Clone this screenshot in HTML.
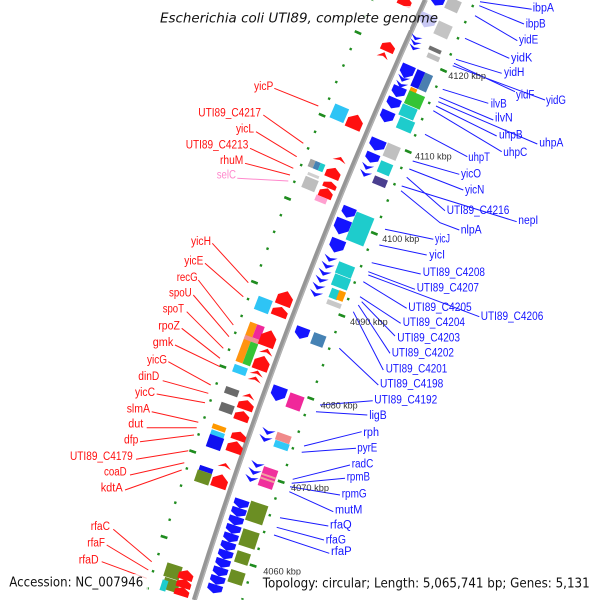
<!DOCTYPE html>
<html><head><meta charset="utf-8"><style>
html,body{margin:0;padding:0;background:#fff;width:600px;height:600px;overflow:hidden;}
svg{display:block;overflow:hidden;}
.l{font-family:"Liberation Sans",sans-serif;font-size:11.5px;}
.r{fill:#ff1010;}
.b{fill:#1414ff;}
.k{font-family:"Liberation Sans",sans-serif;font-size:9.5px;fill:#333;}
.t{font-family:"DejaVu Sans","Liberation Sans",sans-serif;font-size:13.5px;fill:#111;}
</style></head><body>
<svg width="600" height="600" viewBox="0 0 600 600" xmlns="http://www.w3.org/2000/svg">
<defs>
<path id="rA" d="M-.5,.5V-.1L0,-.5L.5,-.1V.5Z"/>
<path id="bA" d="M-.5,-.5H.5V.1L0,.5L-.5,.1Z"/>
<path id="bC" d="M-.5,-.5L0,-.15L.5,-.5L0,.5Z"/>
<path id="rC" d="M-.5,.5L0,.15L.5,.5L0,-.5Z"/>
<rect id="bx" x="-.5" y="-.5" width="1" height="1"/>
<clipPath id="cp"><rect width="600" height="600"/></clipPath>
</defs>
<g clip-path="url(#cp)">
<rect width="600" height="600" fill="#fff"/>

<!-- backbone -->
<path d="M425.3,0 Q288.2,300 194.3,600" fill="none" stroke="#969696" stroke-width="5"/>
<path d="M427,0 Q289.9,300 196,600" fill="none" stroke="#b4b4b4" stroke-width="1.3"/>

<!-- tick dots -->
<path d="M475.43,0.11 Q336.93,299.96 242.19,599.75" fill="none" stroke="#1f8c1f" stroke-width="2.4" stroke-dasharray="2.4 15.29" stroke-dashoffset="12.39"/>
<path d="M372.47,0.22 Q237.03,299.98 144.09,599.8" fill="none" stroke="#1f8c1f" stroke-width="2.4" stroke-dasharray="2.4 15.62" stroke-dashoffset="1.84"/>
<path d="M475.43,0.11 Q336.93,299.96 242.19,599.75" fill="none" stroke="#1f8c1f" stroke-width="7" stroke-dasharray="2.6 85.85" stroke-dashoffset="12.49"/>
<path d="M372.47,0.22 Q237.03,299.98 144.09,599.8" fill="none" stroke="#1f8c1f" stroke-width="7" stroke-dasharray="2.6 87.5" stroke-dashoffset="56.0"/>

<!-- ===== genes: top ===== -->
<use href="#rA" class="r" transform="translate(405 1) rotate(24.5) scale(14 10)"/>
<use href="#bA" class="b" transform="translate(437 1) rotate(24.5) scale(14 10)"/>
<use href="#bx" fill="#bdbdbd" transform="translate(453 5) rotate(24.4) scale(14 12)"/>
<use href="#bA" fill="#c8c8f4" transform="translate(427 21) rotate(24.3) scale(17 14)"/>
<use href="#bx" fill="#c4c4c4" transform="translate(443 30) rotate(24.2) scale(15 14)"/>
<use href="#rA" class="r" transform="translate(388.3 46.7) rotate(24) scale(14 10)"/>
<use href="#rC" class="r" transform="translate(383.3 55) rotate(23.9) scale(12 6)"/>
<use href="#bC" class="b" transform="translate(416 38) rotate(24) scale(12 5)"/>
<use href="#bC" class="b" transform="translate(415 43) rotate(24) scale(12 5)"/>
<use href="#bC" class="b" transform="translate(414 48) rotate(24) scale(12 5)"/>
<use href="#bx" fill="#707070" transform="translate(435 50) rotate(24) scale(13 4)"/>
<use href="#bx" fill="#c0c0c0" transform="translate(433.3 57.3) rotate(23.9) scale(13 5)"/>

<!-- right 60-130 -->
<use href="#bA" class="b" transform="translate(406.7 71.7) rotate(23.7) scale(14 14)"/>
<use href="#bC" class="b" transform="translate(403 79) rotate(23.6) scale(13 6)"/>
<use href="#bC" class="b" transform="translate(401 85) rotate(23.6) scale(13 6)"/>
<use href="#bA" class="b" transform="translate(398.3 92) rotate(23.5) scale(14 11)"/>
<use href="#bA" class="b" transform="translate(393.3 103.3) rotate(23.4) scale(14 11)"/>
<use href="#bA" class="b" transform="translate(386.7 116.7) rotate(23.2) scale(14 12)"/>
<g transform="translate(421.7 80.8) rotate(23.6)">
<rect x="-8.5" y="-9" width="8.5" height="18" fill="#1010f0"/>
<rect x="0" y="-9" width="8.5" height="18" fill="#4a7fb0"/>
</g>
<use href="#bx" fill="#ff9900" transform="translate(413 91) rotate(23.5) scale(7 6)"/>
<use href="#bx" fill="#35c435" transform="translate(414.5 100) rotate(23.4) scale(17 14)"/>
<use href="#bx" fill="#1ecccc" transform="translate(408 112) rotate(23.3) scale(16 12)"/>
<use href="#bx" fill="#1ecccc" transform="translate(405.5 125) rotate(23.1) scale(16 12)"/>

<!-- right 130-200 -->
<use href="#bA" class="b" transform="translate(377 145) rotate(22.9) scale(16 12)"/>
<use href="#bA" class="b" transform="translate(372 158) rotate(22.7) scale(14 10)"/>
<use href="#bC" class="b" transform="translate(367 167) rotate(22.6) scale(13 6)"/>
<use href="#bC" class="b" transform="translate(365 174) rotate(22.6) scale(13 6)"/>
<use href="#bx" fill="#c0c0c0" transform="translate(391.7 151.7) rotate(22.8) scale(14 14)"/>
<use href="#bx" fill="#1ecccc" transform="translate(385 168.3) rotate(22.6) scale(13 12)"/>
<use href="#bx" fill="#4a3f8f" transform="translate(380 181.7) rotate(22.5) scale(14 8)"/>

<!-- right 200-310 -->
<use href="#bA" class="b" transform="translate(348.3 212.5) rotate(22.1) scale(14 11)"/>
<use href="#bA" class="b" transform="translate(341.7 227) rotate(21.9) scale(16 16)"/>
<use href="#bA" class="b" transform="translate(336.7 246) rotate(21.7) scale(15 14)"/>
<use href="#bC" class="b" transform="translate(330 259) rotate(21.5) scale(14 6)"/>
<use href="#bC" class="b" transform="translate(327 266) rotate(21.5) scale(14 6)"/>
<use href="#bC" class="b" transform="translate(324 273) rotate(21.4) scale(14 6)"/>
<use href="#bC" class="b" transform="translate(321 280) rotate(21.3) scale(14 6)"/>
<use href="#bC" class="b" transform="translate(318 287) rotate(21.2) scale(14 6)"/>
<use href="#bC" class="b" transform="translate(315.5 294) rotate(21.1) scale(14 6)"/>
<use href="#bx" fill="#1ecccc" transform="translate(360 229) rotate(21.9) scale(19 30)"/>
<use href="#bx" fill="#1ecccc" transform="translate(345 270) rotate(21.4) scale(17 12)"/>
<use href="#bx" fill="#1ecccc" transform="translate(341 282) rotate(21.3) scale(17 12)"/>
<use href="#bx" fill="#1ecccc" transform="translate(334.5 294) rotate(21.1) scale(9 10)"/>
<use href="#bx" fill="#ff9900" transform="translate(341 296) rotate(21.1) scale(7 10)"/>
<use href="#bx" fill="#c8c8c8" transform="translate(334 304) rotate(21) scale(15 5)"/>
<use href="#bA" class="b" transform="translate(301.7 333.3) rotate(20.6) scale(14 12)"/>
<use href="#bx" fill="#4682b4" transform="translate(318.3 340) rotate(20.6) scale(13 12)"/>

<!-- right 380-480 -->
<use href="#bA" class="b" transform="translate(278.3 394) rotate(19.9) scale(15 15)"/>
<use href="#bx" fill="#f0289a" transform="translate(295 402) rotate(19.9) scale(15 15)"/>
<use href="#bC" class="b" transform="translate(268 432) rotate(19.5) scale(14 6)"/>
<use href="#bC" class="b" transform="translate(265 439) rotate(19.4) scale(14 6)"/>
<use href="#bx" fill="#f08a8a" transform="translate(283.3 438) rotate(19.4) scale(15 8)"/>
<use href="#bx" fill="#30c8f8" transform="translate(281.5 445.5) rotate(19.3) scale(15 7)"/>
<use href="#bC" class="b" transform="translate(257 465) rotate(19.1) scale(14 6)"/>
<use href="#bC" class="b" transform="translate(254 472) rotate(19) scale(14 6)"/>
<use href="#bC" class="b" transform="translate(251 479) rotate(18.9) scale(14 6)"/>
<g transform="translate(268 478) rotate(18.9)">
<rect x="-7.5" y="-10" width="15" height="20" fill="#f0309c"/>
<rect x="-7.5" y="-3" width="15" height="2" fill="#f0a0a0"/>
<rect x="-7.5" y="1" width="15" height="2" fill="#f0a0a0"/>
</g>

<!-- right 490-600 blue column -->
<use href="#bA" class="b" transform="translate(241 504) rotate(18.6) scale(15 9)"/>
<use href="#bA" class="b" transform="translate(238.4 512.5) rotate(18.5) scale(15 9)"/>
<use href="#bA" class="b" transform="translate(235.7 521) rotate(18.4) scale(15 9)"/>
<use href="#bA" class="b" transform="translate(233.1 529.5) rotate(18.3) scale(15 9)"/>
<use href="#bA" class="b" transform="translate(230.5 538) rotate(18.1) scale(15 9)"/>
<use href="#bA" class="b" transform="translate(227.8 546.5) rotate(18) scale(15 9)"/>
<use href="#bA" class="b" transform="translate(225.2 555) rotate(17.9) scale(15 9)"/>
<use href="#bA" class="b" transform="translate(222.6 563.5) rotate(17.8) scale(15 9)"/>
<use href="#bA" class="b" transform="translate(220 572) rotate(17.7) scale(15 9)"/>
<use href="#bA" class="b" transform="translate(217.3 580.5) rotate(17.6) scale(15 9)"/>
<use href="#bA" class="b" transform="translate(214.6 589) rotate(17.5) scale(15 9)"/>
<use href="#bx" fill="#6b8e23" transform="translate(256.7 513) rotate(18.4) scale(18 20)"/>
<use href="#bx" fill="#6b8e23" transform="translate(249 539) rotate(18.1) scale(17 17)"/>
<use href="#bx" fill="#6b8e23" transform="translate(242.5 558) rotate(17.9) scale(14 12)"/>
<use href="#bx" fill="#6b8e23" transform="translate(236.5 577.5) rotate(17.6) scale(15 13)"/>

<!-- ===== left side ===== -->
<use href="#bx" fill="#2ec4f5" transform="translate(339.3 113.3) rotate(23.2) scale(15 15)"/>
<use href="#rA" class="r" transform="translate(355 121.7) rotate(23.2) scale(16 15)"/>
<g transform="translate(316.5 165.5) rotate(22.7)">
<rect x="-8" y="-4" width="5.5" height="8" fill="#a0a0a0"/>
<rect x="-2.5" y="-4" width="5.5" height="8" fill="#4682b4"/>
<rect x="3" y="-4" width="5" height="8" fill="#1ecccc"/>
</g>
<use href="#rC" class="r" transform="translate(340 159.3) rotate(22.7) scale(14 5)"/>
<use href="#rA" class="r" transform="translate(333.3 173) rotate(22.6) scale(15 11)"/>
<use href="#bx" fill="#d0d0d0" transform="translate(313.3 175.5) rotate(22.5) scale(12 3)"/>
<use href="#bx" fill="#bdbdbd" transform="translate(310 184) rotate(22.5) scale(14 12)"/>
<use href="#rA" class="r" transform="translate(330 185) rotate(22.5) scale(14 7)"/>
<use href="#rA" class="r" transform="translate(326 193) rotate(22.4) scale(14 10)"/>
<use href="#bx" fill="#ffa0d0" transform="translate(321 199.5) rotate(22.3) scale(12 6)"/>

<!-- left 280-380 -->
<use href="#rA" class="r" transform="translate(285 298.3) rotate(21.1) scale(16 15)"/>
<use href="#rA" class="r" transform="translate(280 311.7) rotate(21) scale(16 10)"/>
<use href="#bx" fill="#2ec4f5" transform="translate(263.3 305) rotate(21) scale(15 14)"/>
<g transform="translate(250 345) rotate(20.6)">
<rect x="-8" y="-22" width="7.5" height="42" fill="#ff9410"/>
<rect x="-0.5" y="-22" width="8" height="14" fill="#f0289a"/>
<rect x="-8" y="-8" width="15.5" height="4.5" fill="#f09090"/>
<rect x="-0.5" y="-3.5" width="8" height="23.5" fill="#35c435"/>
</g>
<use href="#bx" fill="#30c8f8" transform="translate(240 370) rotate(20.2) scale(14 8)"/>
<use href="#rA" class="r" transform="translate(268.3 338.3) rotate(20.6) scale(16 17)"/>
<use href="#rC" class="r" transform="translate(266.7 351.5) rotate(20.4) scale(14 6)"/>
<use href="#rA" class="r" transform="translate(261.7 363) rotate(20.3) scale(16 15)"/>
<use href="#rC" class="r" transform="translate(257 373) rotate(20.2) scale(14 5)"/>
<use href="#rC" class="r" transform="translate(255 379) rotate(20.1) scale(14 5)"/>

<!-- left 380-500 -->
<use href="#bx" fill="#6a6a6a" transform="translate(231.7 391.7) rotate(19.9) scale(14 7)"/>
<use href="#bx" fill="#6a6a6a" transform="translate(226.7 408.3) rotate(19.8) scale(14 9)"/>
<use href="#rC" class="r" transform="translate(249 396) rotate(19.9) scale(13 5)"/>
<use href="#rA" class="r" transform="translate(246 405) rotate(19.8) scale(16 10)"/>
<use href="#rA" class="r" transform="translate(242 416) rotate(19.7) scale(15 10)"/>
<use href="#bx" fill="#ff9900" transform="translate(219 428) rotate(19.5) scale(14 5)"/>
<use href="#bx" fill="#30c8f8" transform="translate(217.5 434) rotate(19.5) scale(14 5)"/>
<use href="#bx" fill="#1010f0" transform="translate(215 442.5) rotate(19.4) scale(15 13)"/>
<use href="#rA" class="r" transform="translate(239 436) rotate(19.4) scale(15 9)"/>
<use href="#rA" class="r" transform="translate(235 447) rotate(19.3) scale(16 12)"/>
<use href="#rC" class="r" transform="translate(225 465.5) rotate(19.1) scale(14 5)"/>
<use href="#bx" fill="#1010f0" transform="translate(206 469.5) rotate(19) scale(14 5)"/>
<use href="#bx" fill="#6b8e23" transform="translate(203 477.5) rotate(18.9) scale(15 12)"/>
<use href="#rA" class="r" transform="translate(220 481) rotate(18.9) scale(16 14)"/>

<!-- left 560-600 -->
<use href="#bx" fill="#6b8e23" transform="translate(173 571.5) rotate(17.8) scale(16 14)"/>
<use href="#bx" fill="#6b8e23" transform="translate(171 585) rotate(17.6) scale(16 12)"/>
<use href="#bx" fill="#1ecccc" transform="translate(164 585.5) rotate(17.6) scale(6 11)"/>
<use href="#rA" class="r" transform="translate(186 575) rotate(17.7) scale(15 10)"/>
<use href="#rA" class="r" transform="translate(184 583.5) rotate(17.6) scale(15 9)"/>
<use href="#rA" class="r" transform="translate(182 591.5) rotate(17.5) scale(15 9)"/>

<!-- ===== leader lines ===== -->
<g fill="none" stroke="#ff1a1a" stroke-width="1">
<polyline points="274.3,88.3 318.3,106"/>
<polyline points="263.3,115 303.3,143.3"/>
<polyline points="256,131.7 296.7,156.7"/>
<polyline points="250,148.3 293.3,168.3"/>
<polyline points="245,163.3 290,175"/>
<polyline points="212.3,243.3 248.3,282.7"/>
<polyline points="205,263.3 243.3,296.7"/>
<polyline points="198.3,280 233.3,325"/>
<polyline points="193.3,295 229,336.7"/>
<polyline points="186.7,311.7 223.3,348.3"/>
<polyline points="181.7,328.3 220,358.3"/>
<polyline points="175,345 220,366.7"/>
<polyline points="168.3,361.7 210.7,385"/>
<polyline points="162.7,380.7 208.3,393.3"/>
<polyline points="156.7,394 205,402.7"/>
<polyline points="151.7,411.7 198.3,422.3"/>
<polyline points="146.7,427.7 196.7,427.7"/>
<polyline points="140,441.7 194,435"/>
<polyline points="136,459.3 188.3,450.7"/>
<polyline points="130,475 184.3,462.7"/>
<polyline points="125,490 181.7,470"/>
<polyline points="113.3,529.3 151.7,561.7"/>
<polyline points="106.7,545 148.3,570"/>
<polyline points="101.7,561.7 146.7,578.3"/>
</g>
<polyline points="237.3,178.3 288.3,181" fill="none" stroke="#ff88cc" stroke-width="1"/>
<g fill="none" stroke="#1a1aff" stroke-width="1">
<polyline points="480,1.7 531.7,9.3"/>
<polyline points="479.3,5.7 524,24"/>
<polyline points="475,15.7 517.3,40.7"/>
<polyline points="465,38.3 509.3,58.3"/>
<polyline points="456,59.3 501.7,73.3"/>
<polyline points="454,63.3 515,91.7"/>
<polyline points="452.7,65.7 545,100"/>
<polyline points="442.7,89.3 488.3,103.3"/>
<polyline points="439.3,97.3 493.3,120"/>
<polyline points="436,106 496.7,136"/>
<polyline points="438.3,101.7 537.3,144"/>
<polyline points="433.3,110.7 501.7,151.7"/>
<polyline points="425,134.3 467.3,156.7"/>
<polyline points="412.7,161 459.3,174.3"/>
<polyline points="409.3,169 463.3,190"/>
<polyline points="406.7,177.3 445,210.7"/>
<polyline points="401.7,186 516.7,221.7"/>
<polyline points="401,190.7 440,222.7 459.3,230"/>
<polyline points="385,229.3 433.3,239.3"/>
<polyline points="379.3,245 426.7,255"/>
<polyline points="371.7,262.7 420.7,274"/>
<polyline points="368.3,271.7 415,289.3"/>
<polyline points="368.3,275 479.3,316.7"/>
<polyline points="363.3,281.7 406.7,308.3"/>
<polyline points="360,296.7 400.7,323.3"/>
<polyline points="361.7,301.7 395,336"/>
<polyline points="358.3,305 390,353.3"/>
<polyline points="353.3,311.7 383.3,370"/>
<polyline points="339.3,348.3 378.3,385"/>
<polyline points="320,405 372.7,400.7"/>
<polyline points="316,411.7 367.3,415"/>
<polyline points="304,446 361.7,431.7"/>
<polyline points="301.7,452.3 356,448.3"/>
<polyline points="292.7,479.3 350,465"/>
<polyline points="291.7,483.3 345,478.3"/>
<polyline points="290,486.7 340,495"/>
<polyline points="289.3,491.7 333.3,511.7"/>
<polyline points="280,517.7 328.3,526"/>
<polyline points="276.7,527.3 324,540"/>
<polyline points="274,535 329.3,553.3"/>
</g>

<!-- kbp labels -->
<text class="k" x="448.3" y="79" textLength="37.7" lengthAdjust="spacingAndGlyphs">4120 kbp</text>
<text class="k" x="415" y="159.3" textLength="36.7" lengthAdjust="spacingAndGlyphs">4110 kbp</text>
<text class="k" x="382.3" y="242" textLength="37" lengthAdjust="spacingAndGlyphs">4100 kbp</text>
<text class="k" x="350" y="325" textLength="37.7" lengthAdjust="spacingAndGlyphs">4090 kbp</text>
<text class="k" x="320.7" y="408.3" textLength="37" lengthAdjust="spacingAndGlyphs">4080 kbp</text>
<text class="k" x="291" y="491" textLength="38" lengthAdjust="spacingAndGlyphs">4070 kbp</text>
<text class="k" x="263.3" y="574.5" textLength="37.7" lengthAdjust="spacingAndGlyphs">4060 kbp</text>

<!-- overlays -->
<rect x="155" y="6" width="255" height="24" fill="#fff" fill-opacity="0.78"/>
<rect x="4" y="574" width="144" height="18" fill="#fff" fill-opacity="0.75"/>
<rect x="258" y="575" width="336" height="17" fill="#fff" fill-opacity="0.75"/>

<!-- left labels -->
<g class="l r">
<text x="254" y="90" textLength="19.3" lengthAdjust="spacingAndGlyphs">yicP</text>
<text x="198.3" y="116.7" textLength="62.7" lengthAdjust="spacingAndGlyphs">UTI89_C4217</text>
<text x="236" y="132.7" textLength="18" lengthAdjust="spacingAndGlyphs">yicL</text>
<text x="185.7" y="148.3" textLength="62.6" lengthAdjust="spacingAndGlyphs">UTI89_C4213</text>
<text x="220" y="164" textLength="23.3" lengthAdjust="spacingAndGlyphs">rhuM</text>
<text x="191" y="245" textLength="20" lengthAdjust="spacingAndGlyphs">yicH</text>
<text x="184.3" y="264.3" textLength="19" lengthAdjust="spacingAndGlyphs">yicE</text>
<text x="176.7" y="281" textLength="21" lengthAdjust="spacingAndGlyphs">recG</text>
<text x="169" y="296.7" textLength="22.7" lengthAdjust="spacingAndGlyphs">spoU</text>
<text x="162.7" y="312.7" textLength="21.3" lengthAdjust="spacingAndGlyphs">spoT</text>
<text x="158.3" y="329.3" textLength="21.7" lengthAdjust="spacingAndGlyphs">rpoZ</text>
<text x="152.7" y="346" textLength="20.6" lengthAdjust="spacingAndGlyphs">gmk</text>
<text x="147" y="363.3" textLength="20" lengthAdjust="spacingAndGlyphs">yicG</text>
<text x="138.3" y="380" textLength="21" lengthAdjust="spacingAndGlyphs">dinD</text>
<text x="135" y="396" textLength="20" lengthAdjust="spacingAndGlyphs">yicC</text>
<text x="126.7" y="412.3" textLength="23.3" lengthAdjust="spacingAndGlyphs">slmA</text>
<text x="128.3" y="427.3" textLength="15" lengthAdjust="spacingAndGlyphs">dut</text>
<text x="124" y="443.3" textLength="14.3" lengthAdjust="spacingAndGlyphs">dfp</text>
<text x="70" y="460" textLength="62.7" lengthAdjust="spacingAndGlyphs">UTI89_C4179</text>
<text x="104" y="475.7" textLength="22.7" lengthAdjust="spacingAndGlyphs">coaD</text>
<text x="100.7" y="491.7" textLength="22" lengthAdjust="spacingAndGlyphs">kdtA</text>
<text x="90.7" y="530" textLength="19.3" lengthAdjust="spacingAndGlyphs">rfaC</text>
<text x="87.3" y="546.7" textLength="17.7" lengthAdjust="spacingAndGlyphs">rfaF</text>
<text x="78.7" y="563.3" textLength="20" lengthAdjust="spacingAndGlyphs">rfaD</text>
</g>
<text class="l" fill="#ff88cc" x="216.7" y="178.3" textLength="19.3" lengthAdjust="spacingAndGlyphs">selC</text>

<!-- right labels -->
<g class="l b">
<text x="532.7" y="11.7" textLength="21.3" lengthAdjust="spacingAndGlyphs">ibpA</text>
<text x="525.7" y="27.3" textLength="20" lengthAdjust="spacingAndGlyphs">ibpB</text>
<text x="519" y="43.3" textLength="19.3" lengthAdjust="spacingAndGlyphs">yidE</text>
<text x="511" y="61.7" textLength="21.3" lengthAdjust="spacingAndGlyphs">yidK</text>
<text x="504" y="76" textLength="20.3" lengthAdjust="spacingAndGlyphs">yidH</text>
<text x="516" y="98.7" textLength="18.3" lengthAdjust="spacingAndGlyphs">yidF</text>
<text x="546" y="104" textLength="20" lengthAdjust="spacingAndGlyphs">yidG</text>
<text x="490.7" y="107.3" textLength="16" lengthAdjust="spacingAndGlyphs">ilvB</text>
<text x="495" y="121.7" textLength="17.7" lengthAdjust="spacingAndGlyphs">ilvN</text>
<text x="499" y="138.3" textLength="23.7" lengthAdjust="spacingAndGlyphs">uhpB</text>
<text x="539.3" y="146.7" textLength="24" lengthAdjust="spacingAndGlyphs">uhpA</text>
<text x="503.3" y="156" textLength="24" lengthAdjust="spacingAndGlyphs">uhpC</text>
<text x="468.3" y="161" textLength="21.7" lengthAdjust="spacingAndGlyphs">uhpT</text>
<text x="461" y="177.3" textLength="20" lengthAdjust="spacingAndGlyphs">yicO</text>
<text x="465" y="193.3" textLength="19.3" lengthAdjust="spacingAndGlyphs">yicN</text>
<text x="446.7" y="214" textLength="62.6" lengthAdjust="spacingAndGlyphs">UTI89_C4216</text>
<text x="518.3" y="224" textLength="20" lengthAdjust="spacingAndGlyphs">nepI</text>
<text x="460.7" y="233.3" textLength="21" lengthAdjust="spacingAndGlyphs">nlpA</text>
<text x="435" y="242.7" textLength="15" lengthAdjust="spacingAndGlyphs">yicJ</text>
<text x="429.3" y="258.3" textLength="15.7" lengthAdjust="spacingAndGlyphs">yicI</text>
<text x="422.7" y="276" textLength="62.3" lengthAdjust="spacingAndGlyphs">UTI89_C4208</text>
<text x="416.7" y="291.7" textLength="62.3" lengthAdjust="spacingAndGlyphs">UTI89_C4207</text>
<text x="408.3" y="311" textLength="63.4" lengthAdjust="spacingAndGlyphs">UTI89_C4205</text>
<text x="480.7" y="320" textLength="62.6" lengthAdjust="spacingAndGlyphs">UTI89_C4206</text>
<text x="402.7" y="326" textLength="62.3" lengthAdjust="spacingAndGlyphs">UTI89_C4204</text>
<text x="397.3" y="341.7" textLength="62.7" lengthAdjust="spacingAndGlyphs">UTI89_C4203</text>
<text x="391.7" y="356.7" textLength="62.3" lengthAdjust="spacingAndGlyphs">UTI89_C4202</text>
<text x="385.7" y="372.7" textLength="61.6" lengthAdjust="spacingAndGlyphs">UTI89_C4201</text>
<text x="380" y="387.3" textLength="63.3" lengthAdjust="spacingAndGlyphs">UTI89_C4198</text>
<text x="374.3" y="403.3" textLength="63" lengthAdjust="spacingAndGlyphs">UTI89_C4192</text>
<text x="369.3" y="419" textLength="17.4" lengthAdjust="spacingAndGlyphs">ligB</text>
<text x="363.3" y="436" textLength="15.7" lengthAdjust="spacingAndGlyphs">rph</text>
<text x="357.3" y="451.7" textLength="20" lengthAdjust="spacingAndGlyphs">pyrE</text>
<text x="351.7" y="467.7" textLength="21.6" lengthAdjust="spacingAndGlyphs">radC</text>
<text x="346.7" y="480.7" textLength="23.3" lengthAdjust="spacingAndGlyphs">rpmB</text>
<text x="341.7" y="497.3" textLength="25" lengthAdjust="spacingAndGlyphs">rpmG</text>
<text x="335" y="513.3" textLength="27.3" lengthAdjust="spacingAndGlyphs">mutM</text>
<text x="330" y="528.3" textLength="21.7" lengthAdjust="spacingAndGlyphs">rfaQ</text>
<text x="325.7" y="543.3" textLength="20.3" lengthAdjust="spacingAndGlyphs">rfaG</text>
<text x="331" y="555" textLength="20.7" lengthAdjust="spacingAndGlyphs">rfaP</text>
</g>

<!-- title / footer -->
<text class="t" x="160" y="22.7" font-style="italic" textLength="278" lengthAdjust="spacingAndGlyphs" fill="#222">Escherichia coli UTI89, complete genome</text>
<text class="t" x="9.3" y="586.7" textLength="134" lengthAdjust="spacingAndGlyphs">Accession: NC_007946</text>
<text class="t" x="262.7" y="587.3" textLength="327" lengthAdjust="spacingAndGlyphs">Topology: circular; Length: 5,065,741 bp; Genes: 5,131</text>
</g>
</svg>
</body></html>
